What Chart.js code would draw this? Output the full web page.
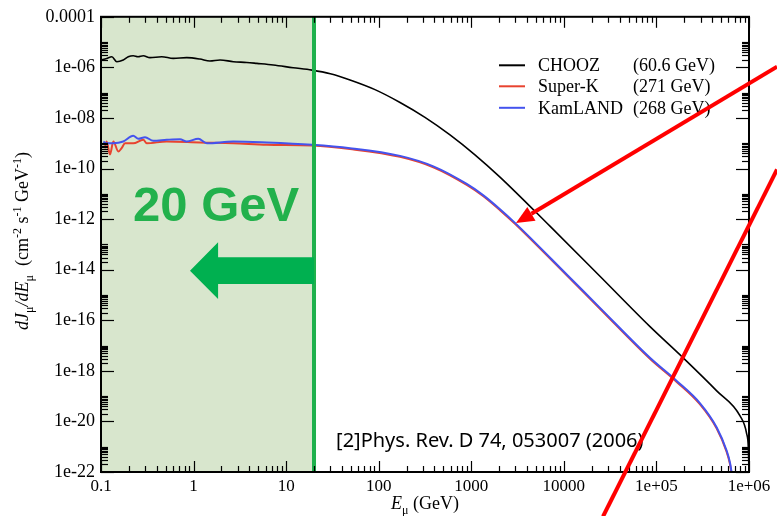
<!DOCTYPE html>
<html><head><meta charset="utf-8">
<script src="https://cdn.jsdelivr.net/npm/chart.js@4/dist/chart.umd.min.js"></script>
<style>html,body{margin:0;padding:0;background:#fff}#wrap{width:777px;height:516px;position:relative}canvas{display:block}</style>
</head><body><div id="wrap"><canvas id="c" width="777" height="516" style="width:777px;height:516px"></canvas></div>
<script>
// ---- data (energy in GeV, flux in cm^-2 s^-1 GeV^-1) ----
const choozE = [0.1,0.115,0.131,0.148,0.174,0.197,0.223,0.251,0.286,0.338,0.453,0.604,0.843,1.17,1.50,1.93,2.69,3.75,4.83,7.26,11.9,19.0,30.0,49.0,91.2,170,316,589,1096,2042,7079,24547,85310,195000,448000,800000,944000,984000,1000000];
const choozFlux = [1.96e-6,2.26e-6,2.64e-6,1.68e-6,1.96e-6,2.64e-6,2.90e-6,2.64e-6,2.90e-6,2.42e-6,2.64e-6,2.26e-6,2.42e-6,2.14e-6,1.79e-6,1.96e-6,1.68e-6,1.57e-6,1.44e-6,1.24e-6,9.7e-7,7.8e-7,5.6e-7,3.18e-7,1.32e-7,4.1e-8,1.06e-8,2.15e-9,3.5e-10,4.6e-11,5.25e-13,5.5e-15,5.6e-17,3.24e-18,1.62e-19,1.66e-20,3.24e-21,9.1e-22,9e-23];

const superkE = [0.110,0.115,0.125,0.136,0.154,0.167,0.182,0.223,0.286,0.312,0.513,1.17,2.69,6.17,19.0,49.0,170,389,893,1340,2042,2965,10740,24547,85100,165600,293000,448000,574000,624000,650000];
const superkFlux = [6.4e-10,1.17e-9,3.6e-10,1.17e-9,4.7e-10,6.4e-10,1.00e-9,1.00e-9,1.37e-9,1.00e-9,1.17e-9,1.07e-9,1.00e-9,8.7e-10,8.1e-10,5.9e-10,2.9e-10,1.12e-10,2.25e-11,8.2e-12,2.26e-12,6.5e-13,6.0e-15,2.85e-16,3.0e-18,3.65e-19,4.9e-20,5.2e-21,6.2e-22,2.0e-22,8e-23];

const kamlandE = [0.106,0.115,0.136,0.174,0.223,0.253,0.299,0.367,0.513,0.713,0.843,1.125,1.39,2.69,6.17,19.0,49.0,170,389,893,1340,2042,2965,10740,24547,85100,165600,293000,448000,574000,624000,650000];
const kamlandFlux = [1.17e-9,1.00e-9,1.00e-9,1.17e-9,1.97e-9,1.50e-9,1.73e-9,1.25e-9,1.37e-9,1.45e-9,1.17e-9,1.50e-9,1.00e-9,1.17e-9,1.07e-9,8.7e-10,6.4e-10,3.16e-10,1.22e-10,2.45e-11,8.9e-12,2.46e-12,7.1e-13,6.5e-15,3.1e-16,3.3e-18,4.0e-19,5.4e-20,5.75e-21,6.9e-22,2.3e-22,9.3e-23];

const seriesNames = ['CHOOZ','Super-K','KamLAND'];
const meanEnergies = ['(60.6 GeV)','(271 GeV)','(268 GeV)'];

const xTickValues = [0.1,1,10,100,1000,10000,1e5,1e6];
const xTickLabels = ['0.1','1','10','100','1000','10000','1e+05','1e+06'];
const yTickValues = [1e-22,1e-20,1e-18,1e-16,1e-14,1e-12,1e-10,1e-8,1e-6,1e-4];
const yTickLabels = ['1e-22','1e-20','1e-18','1e-16','1e-14','1e-12','1e-10','1e-08','1e-06','0.0001'];

const cutoffRange = [0.1, 20];            // shaded region (GeV)
const cutoffLabel = '20 GeV';
const citation = '[2]Phys. Rev. D 74, 053007 (2006)';

// annotation anchors in data units [E, flux]
const greenArrow = {tip:[0.915,9.1e-15], headBase:1.84, headTop:1.22e-13, headBottom:6.9e-16, shaftTop:3.1e-14, shaftBottom:2.7e-15, shaftEnd:20};
const labelAnchor = [0.222, 8.1e-13];
const citationAnchor = [34.6, 1.0e-21];
const redArrow = {from:[2.01e6, 1.07e-6], to:[3040, 7.0e-13]};
const redLine = {from:[2.01e6, 9.2e-11], to:[26500, 1.74e-24]};

const SERIF = '"Liberation Serif","Times New Roman",serif';
const colors = {chooz:'#000000', superk:'#e8432f', kamland:'#4453ee'};

function pairs(xs, ys){ return xs.map((v,i)=>({x:v, y:ys[i]})); }

function partFont(p){
  const size = (p.pos==='sub'||p.pos==='sup') ? 12 : 18;
  return (p.it ? 'italic ' : '') + size + 'px ' + SERIF;
}
function richWidth(ctx, parts){
  let w=0; for(const p of parts){ ctx.font = partFont(p); w += ctx.measureText(p.t).width; } return w;
}
function drawRich(ctx, parts, cx, baseY){
  let x = cx - richWidth(ctx, parts)/2;
  ctx.textBaseline='alphabetic'; ctx.textAlign='left'; ctx.fillStyle='#000';
  for(const p of parts){
    ctx.font = partFont(p);
    const dy = p.pos==='sub' ? 5 : (p.pos==='sup' ? -7 : 0);
    ctx.fillText(p.t, x, baseY+dy);
    x += ctx.measureText(p.t).width;
  }
}

const overlay = {
  id:'overlay',
  beforeDatasetsDraw(chart){
    const {ctx, chartArea:ca, scales:{x}} = chart;
    const x0 = x.getPixelForValue(cutoffRange[0]), x1 = x.getPixelForValue(cutoffRange[1]);
    ctx.save(); ctx.fillStyle='#d8e6cd'; ctx.fillRect(x0, ca.top, x1-x0, ca.bottom-ca.top); ctx.restore();
  },
  afterDatasetsDraw(chart){
    const {ctx, chartArea:ca, scales:{x,y}} = chart;
    ctx.save();
    const xc = x.getPixelForValue(cutoffRange[1]);
    ctx.strokeStyle='#1fb14d'; ctx.lineWidth=4;
    ctx.beginPath(); ctx.moveTo(xc, ca.top); ctx.lineTo(xc, ca.bottom); ctx.stroke();
    ctx.strokeStyle='#000'; ctx.lineWidth=2;
    ctx.strokeRect(ca.left, ca.top, ca.right-ca.left, ca.bottom-ca.top);
    ctx.lineWidth=1.2;
    const seg=(a,b,c,d)=>{ctx.beginPath();ctx.moveTo(a,b);ctx.lineTo(c,d);ctx.stroke();};
    for(let e=-1;e<=6;e++){
      const px = Math.round(x.getPixelForValue(Math.pow(10,e)))+0.5;
      seg(px, ca.bottom, px, ca.bottom-11); seg(px, ca.top, px, ca.top+11);
      if(e<6) for(let k=2;k<=9;k++){
        const p2 = Math.round(x.getPixelForValue(k*Math.pow(10,e)))+0.5;
        seg(p2, ca.bottom, p2, ca.bottom-6); seg(p2, ca.top, p2, ca.top+6);
      }
    }
    for(let e=-22;e<=-4;e+=2){
      const py = Math.round(y.getPixelForValue(Math.pow(10,e)))+0.5;
      seg(ca.left, py, ca.left+13, py); seg(ca.right, py, ca.right-13, py);
      if(e<-4) for(let k=2;k<=10;k++){
        const p2 = Math.round(y.getPixelForValue(k*Math.pow(10,e)))+0.5;
        seg(ca.left, p2, ca.left+7, p2); seg(ca.right, p2, ca.right-7, p2);
      }
    }
    ctx.restore();
  },
  afterDraw(chart){
    const {ctx, chartArea:ca, scales:{x,y}} = chart;
    const P = (e,f)=>[x.getPixelForValue(e), y.getPixelForValue(f)];
    ctx.save();
    // legend
    const lx = ca.right-250, tx = ca.right-211, tx2 = ca.right-116;
    const rows = [ca.top+48.5, ca.top+69.5, ca.top+91];
    const cols = [colors.chooz, colors.superk, colors.kamland];
    ctx.font = '18px '+SERIF; ctx.textBaseline='middle'; ctx.textAlign='left';
    rows.forEach((ry,i)=>{
      ctx.strokeStyle=cols[i]; ctx.lineWidth=2;
      ctx.beginPath(); ctx.moveTo(lx, ry); ctx.lineTo(lx+26, ry); ctx.stroke();
      ctx.fillStyle='#000';
      ctx.fillText(seriesNames[i], tx, ry+1);
      ctx.fillText(meanEnergies[i], tx2, ry+1);
    });
    // citation
    const [cx, cy] = P(citationAnchor[0], citationAnchor[1]);
    ctx.font = '20px "Noto Sans", sans-serif'; ctx.textBaseline='alphabetic'; ctx.fillStyle='#000';
    ctx.fillText(citation, cx, cy);
    // 20 GeV label
    const [gx, gy] = P(labelAnchor[0], labelAnchor[1]);
    ctx.font = 'bold 49px "Liberation Sans", Arial, sans-serif'; ctx.fillStyle='#22b14c';
    ctx.fillText(cutoffLabel, gx, gy);
    // green arrow
    const a = greenArrow;
    const tip = P(a.tip[0], a.tip[1]);
    const hb = x.getPixelForValue(a.headBase), se = x.getPixelForValue(a.shaftEnd);
    const ht = y.getPixelForValue(a.headTop), hbo = y.getPixelForValue(a.headBottom);
    const st = y.getPixelForValue(a.shaftTop), sb = y.getPixelForValue(a.shaftBottom);
    ctx.fillStyle='#00b050';
    ctx.beginPath(); ctx.moveTo(tip[0], tip[1]); ctx.lineTo(hb, ht); ctx.lineTo(hb, st); ctx.lineTo(se, st);
    ctx.lineTo(se, sb); ctx.lineTo(hb, sb); ctx.lineTo(hb, hbo); ctx.closePath(); ctx.fill();
    // axis titles
    drawRich(ctx, [{t:'E',it:true},{t:'μ',pos:'sub'},{t:' (GeV)'}], 425, 509);
    ctx.save(); ctx.translate(28, 241); ctx.rotate(-Math.PI/2);
    drawRich(ctx, [{t:'dJ',it:true},{t:'μ',pos:'sub'},{t:'/dE',it:true},{t:'μ',pos:'sub'},{t:'  (cm'},{t:'-2',pos:'sup'},{t:' s'},{t:'-1',pos:'sup'},{t:' GeV'},{t:'-1',pos:'sup'},{t:')'}], 0, 0);
    ctx.restore();
    // red annotations
    ctx.strokeStyle='#ff0000'; ctx.fillStyle='#ff0000'; ctx.lineWidth=4; ctx.lineCap='butt';
    const r1 = P(redArrow.from[0], redArrow.from[1]), r2 = P(redArrow.to[0], redArrow.to[1]);
    const dx = r1[0]-r2[0], dy = r1[1]-r2[1], L = Math.hypot(dx,dy), ux=dx/L, uy=dy/L;
    const bx = r2[0]+ux*18, by = r2[1]+uy*18;
    ctx.beginPath(); ctx.moveTo(r1[0], r1[1]); ctx.lineTo(bx, by); ctx.stroke();
    ctx.beginPath(); ctx.moveTo(r2[0], r2[1]); ctx.lineTo(bx-uy*8, by+ux*8); ctx.lineTo(bx+uy*8, by-ux*8); ctx.closePath(); ctx.fill();
    const q1 = P(redLine.from[0], redLine.from[1]), q2 = P(redLine.to[0], redLine.to[1]);
    ctx.beginPath(); ctx.moveTo(q1[0], q1[1]); ctx.lineTo(q2[0], q2[1]); ctx.stroke();
    ctx.restore();
  }
};

const lineDs = (label, xs, ys, color, order, w) => ({
  label, data: pairs(xs, ys), borderColor: color, backgroundColor: color,
  borderWidth: w, pointRadius: 0, fill: false, order, cubicInterpolationMode: 'monotone'
});

new Chart(document.getElementById('c'), {
  type: 'line',
  data: { datasets: [
    lineDs(seriesNames[0], choozE, choozFlux, colors.chooz, 0, 1.6),
    lineDs(seriesNames[2], kamlandE, kamlandFlux, colors.kamland, 1, 2),
    lineDs(seriesNames[1], superkE, superkFlux, colors.superk, 2, 2)
  ]},
  options: {
    responsive: false, animation: false, devicePixelRatio: 1,
    layout: { padding: { left: 0, right: 28, top: 15, bottom: 0 } },
    plugins: { legend: { display: false }, tooltip: { enabled: false } },
    scales: {
      x: {
        type: 'logarithmic', position: 'bottom', min: 0.1, max: 1e6,
        grid: { display: false, drawTicks: false }, border: { display: false },
        afterBuildTicks: s => { s.ticks = xTickValues.map(v => ({ value: v })); },
        afterFit: s => { s.height = 44; },
        ticks: { autoSkip: false, maxRotation: 0, padding: 4, color: '#000',
          font: { family: SERIF, size: 17 }, callback: (v, i) => xTickLabels[i] }
      },
      y: {
        type: 'logarithmic', min: 1e-22, max: 1e-4,
        grid: { display: false, drawTicks: false }, border: { display: false },
        afterBuildTicks: s => { s.ticks = yTickValues.map(v => ({ value: v })); },
        afterFit: s => { s.width = 101; },
        ticks: { autoSkip: false, padding: 6, color: '#000',
          font: { family: SERIF, size: 18 }, callback: (v, i) => yTickLabels[i] }
      }
    }
  },
  plugins: [overlay]
});
</script>
</body></html>
